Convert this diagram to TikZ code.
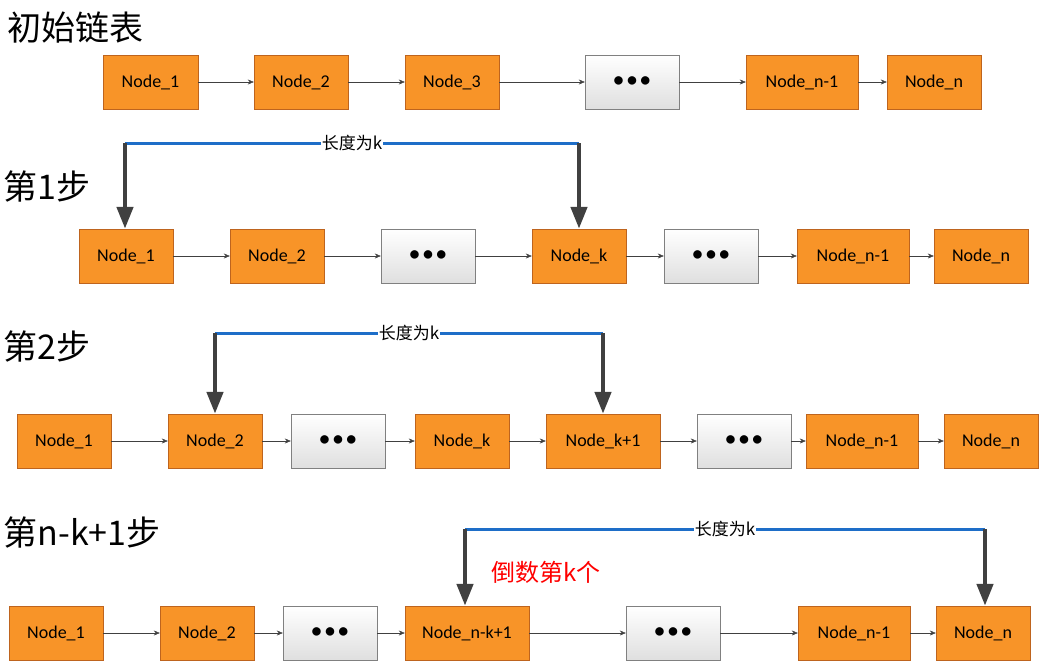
\documentclass[tikz,border=0pt]{standalone}
\usepackage{fontspec}
\setmainfont{Carlito}
\newfontfamily\cjk{Noto Sans CJK SC}
\usetikzlibrary{arrows.meta}
\definecolor{nor}{RGB}{248,148,40}
\definecolor{nbd}{RGB}{190,100,30}
\definecolor{barb}{RGB}{30,110,200}
\definecolor{arrg}{RGB}{64,64,64}
\begin{document}
\begin{tikzpicture}[x=1pt,y=-1pt,
 nd/.style={draw=nbd,fill=nor,minimum height=54pt,inner sep=0pt,font=\fontsize{18}{18}\selectfont},
 dt/.style={draw=gray,top color=white,bottom color=gray!25,minimum height=54pt,minimum width=94pt,inner sep=0pt,font=\fontsize{20}{20}\selectfont\bfseries},
 ln/.style={draw=arrg,-{Stealth[length=6pt,width=5pt]}},
 bar/.style={draw=barb,line width=3pt},
 big/.style={draw=arrg,line width=4.5pt,-{Triangle[length=22pt,width=16pt]}},
 lab/.style={fill=white,inner sep=1pt,font=\cjk\fontsize{17}{17}\selectfont},
 ttl/.style={anchor=west,font=\cjk\fontsize{34}{34}\selectfont}]
\useasboundingbox (0,0) rectangle (1041,667);
% titles
\node[ttl] (t0) at (4,28) {初始链表};
\node[ttl] (t1) at (0,187) {第1步};
\node[ttl] (t2) at (0,347) {第2步};
\node[ttl] (t3) at (0,533) {第n-k+1步};
% row 1
\node[nd,minimum width=95pt] (a1) at (150.5,82) {Node\_1};
\node[nd,minimum width=94pt] (a2) at (301,82) {Node\_2};
\node[nd,minimum width=94pt] (a3) at (452,82) {Node\_3};
\node[dt] (a4) at (632,82) {\textbullet\,\textbullet\,\textbullet};
\node[nd,minimum width=112pt] (a5) at (802,82) {Node\_n-1};
\node[nd,minimum width=94pt] (a6) at (934,82) {Node\_n};
\foreach \p/\q in {a1/a2,a2/a3,a3/a4,a4/a5,a5/a6} \draw[ln] (\p) -- (\q);
% row 2
\node[nd,minimum width=94pt] (b1) at (126,256) {Node\_1};
\node[nd,minimum width=94pt] (b2) at (277,256) {Node\_2};
\node[dt] (b3) at (428,256) {\textbullet\,\textbullet\,\textbullet};
\node[nd,minimum width=94pt] (b4) at (579,256) {Node\_k};
\node[dt] (b5) at (711,256) {\textbullet\,\textbullet\,\textbullet};
\node[nd,minimum width=112pt] (b6) at (853,256) {Node\_n-1};
\node[nd,minimum width=94pt] (b7) at (981,256) {Node\_n};
\foreach \p/\q in {b1/b2,b2/b3,b3/b4,b4/b5,b5/b6,b6/b7} \draw[ln] (\p) -- (\q);
\coordinate (p1) at (125,143); \coordinate (p2) at (579,143);
\draw[bar] (p1) -- node[lab] (l1) {长度为k} (p2);
\draw[big] (p1) -- (b1.north -| p1);
\draw[big] (p2) -- (b4.north);
% row 3
\node[nd,minimum width=94pt] (c1) at (64,441) {Node\_1};
\node[nd,minimum width=94pt] (c2) at (215,441) {Node\_2};
\node[dt] (c3) at (338,441) {\textbullet\,\textbullet\,\textbullet};
\node[nd,minimum width=94pt] (c4) at (462,441) {Node\_k};
\node[nd,minimum width=114pt] (c5) at (603,441) {Node\_k+1};
\node[dt] (c6) at (744,441) {\textbullet\,\textbullet\,\textbullet};
\node[nd,minimum width=112pt] (c7) at (862,441) {Node\_n-1};
\node[nd,minimum width=94pt] (c8) at (991,441) {Node\_n};
\foreach \p/\q in {c1/c2,c2/c3,c3/c4,c4/c5,c5/c6,c6/c7,c7/c8} \draw[ln] (\p) -- (\q);
\coordinate (q1) at (215,333); \coordinate (q2) at (603,333);
\draw[bar] (q1) -- node[lab] (l2) {长度为k} (q2);
\draw[big] (q1) -- (c2.north);
\draw[big] (q2) -- (c5.north);
% row 4
\node[nd,minimum width=94pt] (d1) at (56,633) {Node\_1};
\node[nd,minimum width=94pt] (d2) at (207,633) {Node\_2};
\node[dt] (d3) at (330,633) {\textbullet\,\textbullet\,\textbullet};
\node[nd,minimum width=124pt] (d4) at (467,633) {Node\_n-k+1};
\node[dt] (d5) at (673,633) {\textbullet\,\textbullet\,\textbullet};
\node[nd,minimum width=112pt] (d6) at (854,633) {Node\_n-1};
\node[nd,minimum width=94pt] (d7) at (983,633) {Node\_n};
\foreach \p/\q in {d1/d2,d2/d3,d3/d4,d4/d5,d5/d6,d6/d7} \draw[ln] (\p) -- (\q);
\coordinate (r1) at (465,529); \coordinate (r2) at (985,529);
\draw[bar] (r1) -- node[lab] (l3) {长度为k} (r2);
\draw[big] (r1) -- (d4.north -| r1);
\draw[big] (r2) -- (d7.north -| r2);
\node[anchor=west,text=red,font=\cjk\fontsize{24}{24}\selectfont] (rt) at (488,572) {倒数第k个};
\end{tikzpicture}
\end{document}
